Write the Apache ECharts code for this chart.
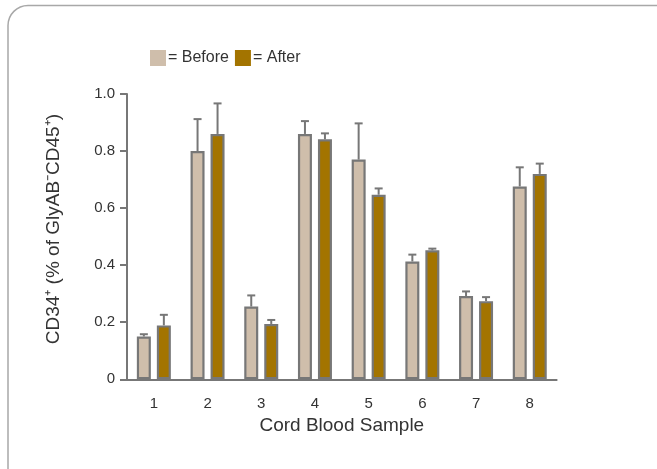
<!DOCTYPE html>
<html>
<head>
<meta charset="utf-8">
<script src="https://cdn.jsdelivr.net/npm/echarts@6/dist/echarts.min.js"></script>
<style>
html,body{margin:0;padding:0;background:#fff;}
#chart{width:657px;height:469px;}
</style>
</head>
<body>
<div id="chart"></div>
<script>
var categories = ['1','2','3','4','5','6','7','8'];
var beforeValues = [0.150, 0.800, 0.255, 0.860, 0.770, 0.413, 0.292, 0.676];
var beforeErrTop = [0.158, 0.912, 0.294, 0.905, 0.897, 0.437, 0.308, 0.743];
var afterValues  = [0.189, 0.860, 0.194, 0.841, 0.647, 0.452, 0.274, 0.720];
var afterErrTop  = [0.226, 0.967, 0.208, 0.862, 0.669, 0.458, 0.288, 0.756];
var yTicks = [0, 0.2, 0.4, 0.6, 0.8, 1.0];

var FONT = '"Liberation Sans", Arial, sans-serif';
var GREY = '#777777';
var TEXT = '#333333';
var BAR_W = 14;
var GAP_FRAC = 6 / 14;

var chart = echarts.init(document.getElementById('chart'), null, {renderer:'canvas'});

function errSeries(name, tops, vals, offsetIdx) {
  return {
    type: 'custom',
    name: name + ' err',
    z: 1,
    silent: true,
    data: categories.map(function(c, i){ return [i, vals[i], tops[i]]; }),
    renderItem: function(params, api) {
      var i = api.value(0);
      var base = api.coord([i, api.value(1)]);
      var top = api.coord([i, api.value(2)]);
      var off = BAR_W / 2 + BAR_W * GAP_FRAC / 2;
      var x = base[0] + (offsetIdx === 0 ? -off : off);
      return {
        type: 'group',
        children: [
          {type:'line', shape:{x1:x, y1:base[1], x2:x, y2:top[1]}, style:{stroke:GREY, lineWidth:2}},
          {type:'line', shape:{x1:x-4, y1:top[1], x2:x+4, y2:top[1]}, style:{stroke:GREY, lineWidth:2}}
        ]
      };
    }
  };
}

var option = {
  backgroundColor: '#ffffff',
  animation: false,
  graphic: [{
    type: 'rect',
    shape: {x: 8, y: 5.5, width: 680, height: 490, r: 20},
    style: {fill: 'none', stroke: '#a8a8a8', lineWidth: 1.5},
    silent: true, z: -10
  }],
  legend: {
    left: 150, top: 50, padding: 0,
    itemWidth: 16, itemHeight: 16, itemGap: 6,
    icon: 'rect',
    data: ['Before', 'After'],
    itemStyle: {borderWidth: 0},
    formatter: function(n){ return '= ' + n; },
    textStyle: {fontFamily: FONT, fontSize: 16, color: TEXT, padding: [0,0,0,-3]}
  },
  grid: {left: 127, right: 100.4, top: 94, bottom: 89.7},
  xAxis: {
    type: 'category',
    data: categories,
    name: 'Cord Blood Sample',
    nameLocation: 'middle',
    nameGap: 37,
    nameTextStyle: {fontFamily: FONT, fontSize: 19, color: TEXT},
    axisLine: {lineStyle: {color: GREY, width: 2}},
    axisTick: {alignWithLabel: true, length: 8, lineStyle: {color: GREY, width: 2}},
    axisLabel: {fontFamily: FONT, fontSize: 15, color: TEXT, margin: 17}
  },
  yAxis: {
    type: 'value',
    min: 0, max: 1.0, interval: 0.2,
    name: 'CD34\u207A (% of GlyAB\u207BCD45\u207A)',
    nameLocation: 'middle',
    nameGap: 64,
    nameTextStyle: {fontFamily: FONT, fontSize: 19, color: TEXT, padding: [0,0,0,15]},
    axisLine: {show: true, lineStyle: {color: GREY, width: 2}},
    axisTick: {show: true, length: 7, lineStyle: {color: GREY, width: 2}},
    splitLine: {show: false},
    axisLabel: {
      fontFamily: FONT, fontSize: 15, color: TEXT, margin: 12,
      formatter: function(v){ return v === 0 ? '0' : v.toFixed(1); }
    }
  },
  series: [
    {
      name: 'Before', type: 'bar', data: beforeValues,
      barWidth: BAR_W, barGap: (GAP_FRAC * 100) + '%', z: 2,
      itemStyle: {color: '#cfbeab', borderColor: GREY, borderWidth: 2.2}
    },
    {
      name: 'After', type: 'bar', data: afterValues,
      barWidth: BAR_W, barGap: (GAP_FRAC * 100) + '%', z: 2,
      itemStyle: {color: '#a37400', borderColor: GREY, borderWidth: 2.2}
    },
    errSeries('Before', beforeErrTop, beforeValues, 0),
    errSeries('After', afterErrTop, afterValues, 1)
  ]
};
chart.setOption(option);
</script>
</body>
</html>
